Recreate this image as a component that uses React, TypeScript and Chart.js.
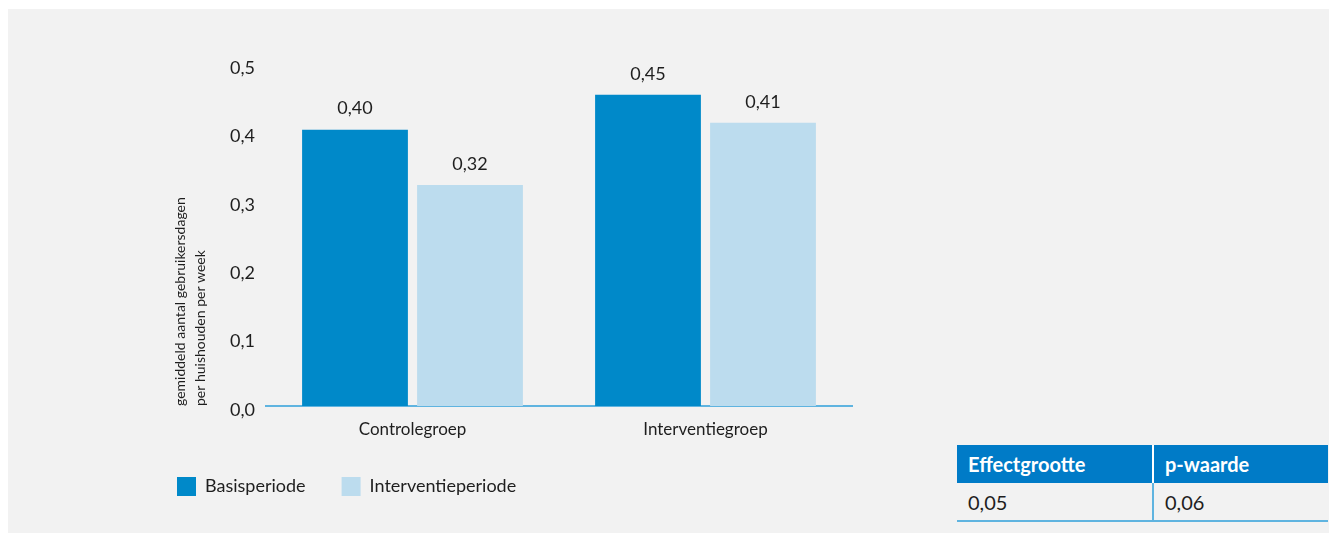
import React, { useEffect, useRef } from "react";
import { Chart, registerables } from "chart.js";

Chart.register(...registerables);

const categories = ["Controlegroep", "Interventiegroep"];
const seriesNames = ["Basisperiode", "Interventieperiode"];
const basisValues = [0.404, 0.455];
const interventieValues = [0.323, 0.414];
const basisLabels = ["0,40", "0,45"];
const interventieLabels = ["0,32", "0,41"];
const yMin = 0;
const yMax = 0.5;
const yStep = 0.1;
const yTitle = ["gemiddeld aantal gebruikersdagen", "per huishouden per week"];
const tableHeaders = ["Effectgrootte", "p-waarde"];
const tableValues = ["0,05", "0,06"];

const FONT = "Lato, 'Noto Sans', sans-serif";
const TEXT = "#1e1e1e";
const BLUE = "#0089c9";
const LIGHT = "#bcdcee";
const AXIS = "#5fb4e0";
const TABLE_BLUE = "#007bc7";

const labelSets = [basisLabels, interventieLabels];

const valueLabelPlugin = {
  id: "valueLabels",
  afterDatasetsDraw(chart: any) {
    const ctx = chart.ctx;
    ctx.save();
    ctx.font = `18px ${FONT}`;
    ctx.fillStyle = TEXT;
    ctx.textAlign = "center";
    ctx.textBaseline = "middle";
    chart.data.datasets.forEach((_ds: any, di: number) => {
      const meta = chart.getDatasetMeta(di);
      meta.data.forEach((bar: any, i: number) => {
        ctx.fillText(labelSets[di][i], bar.x, bar.y - 21);
      });
    });
    ctx.restore();
  },
};

function BarChart() {
  const ref = useRef<HTMLCanvasElement | null>(null);
  useEffect(() => {
    if (!ref.current) return;
    const chart = new Chart(ref.current, {
      type: "bar",
      data: {
        labels: categories,
        datasets: [
          {
            label: seriesNames[0],
            data: basisValues,
            backgroundColor: BLUE,
            borderWidth: 0,
            categoryPercentage: 0.785,
            barPercentage: 0.92,
          },
          {
            label: seriesNames[1],
            data: interventieValues,
            backgroundColor: LIGHT,
            borderWidth: 0,
            categoryPercentage: 0.785,
            barPercentage: 0.92,
          },
        ],
      },
      options: {
        responsive: false,
        animation: false,
        layout: { padding: { top: 24, right: 28, bottom: 0, left: 0 } },
        plugins: {
          tooltip: { enabled: false },
          legend: {
            position: "bottom",
            align: "start",
            labels: {
              boxWidth: 19,
              boxHeight: 19,
              padding: 36,
              color: TEXT,
              font: { family: FONT, size: 18 },
            },
          },
        },
        scales: {
          x: {
            grid: { display: false, drawTicks: false },
            border: { display: true, color: AXIS, width: 2 },
            ticks: {
              color: TEXT,
              font: { family: FONT, size: 17 },
              padding: 13,
            },
            afterFit: (scale: any) => {
              scale.height = 35;
            },
          },
          y: {
            min: yMin,
            max: yMax,
            grid: { display: false, drawTicks: false },
            border: { display: false },
            ticks: {
              stepSize: yStep,
              color: TEXT,
              padding: 11,
              labelOffset: 4,
              font: { family: FONT, size: 18 },
              callback: (v: any) => Number(v).toFixed(1).replace(".", ","),
            },
            title: {
              display: true,
              text: yTitle,
              align: "start",
              color: TEXT,
              padding: { top: 29, bottom: 0 },
              font: { family: FONT, size: 14, lineHeight: "20px" },
            },
            afterFit: (scale: any) => {
              scale.width = 125;
            },
          },
        },
      },
      plugins: [valueLabelPlugin],
    } as any);
    return () => chart.destroy();
  }, []);
  return (
    <canvas
      ref={ref}
      width={739}
      height={466}
      style={{ position: "absolute", left: 133, top: 31, width: 739, height: 466 }}
    />
  );
}

function StatsTable() {
  const cell: React.CSSProperties = {
    padding: "0 0 0 11px",
    boxSizing: "border-box",
    textAlign: "left",
    fontFamily: FONT,
    fontSize: 20,
  };
  return (
    <table
      style={{
        position: "absolute",
        left: 949,
        top: 436,
        width: 371,
        borderCollapse: "collapse",
        tableLayout: "fixed",
      }}
    >
      <colgroup>
        <col style={{ width: 196 }} />
        <col style={{ width: 175 }} />
      </colgroup>
      <thead>
        <tr style={{ height: 38, background: TABLE_BLUE }}>
          {tableHeaders.map((h, i) => (
            <th
              key={h}
              style={{
                ...cell,
                color: "#ffffff",
                fontWeight: 700,
                borderLeft: i === 1 ? "2px solid #ffffff" : "none",
              }}
            >
              {h}
            </th>
          ))}
        </tr>
      </thead>
      <tbody>
        <tr style={{ height: 38, borderBottom: `2px solid ${AXIS}` }}>
          {tableValues.map((v, i) => (
            <td
              key={i}
              style={{
                ...cell,
                color: TEXT,
                borderLeft: i === 1 ? `2px solid ${AXIS}` : "none",
              }}
            >
              {v}
            </td>
          ))}
        </tr>
      </tbody>
    </table>
  );
}

export default function App() {
  return (
    <div
      style={{
        position: "relative",
        marginTop: 1,
        width: 1329,
        height: 524,
        background: "#f2f2f2",
      }}
    >
      <BarChart />
      <StatsTable />
    </div>
  );
}
